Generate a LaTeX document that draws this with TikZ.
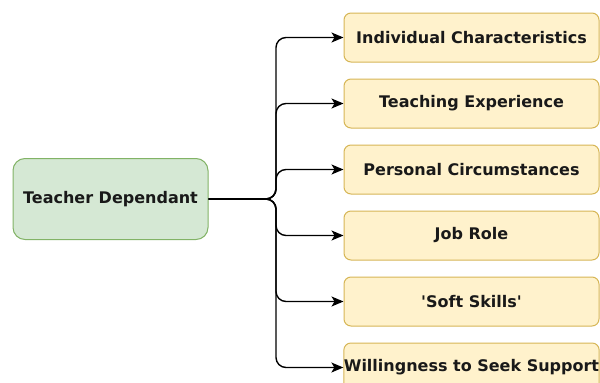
\documentclass[tikz,border=0pt]{standalone}
\usepackage{fontspec}
\setmainfont{DejaVu Sans}
\usepackage{xcolor}
\usetikzlibrary{positioning,arrows.meta}
\definecolor{tdfill}{HTML}{D5E8D4}
\definecolor{tdline}{HTML}{82B366}
\definecolor{ffill}{HTML}{FFF2CC}
\definecolor{fline}{HTML}{D6B656}
\tikzset{
  factor/.style={draw=fline, fill=ffill, line width=1pt, rounded corners=7pt,
    minimum width=255pt, minimum height=49pt, inner sep=0pt,
    font=\fontsize{16}{19}\selectfont\bfseries, text=black!90},
  branch/.style={line width=1.4pt, rounded corners=10pt,
    -{Stealth[length=12pt, width=10pt, inset=3pt]}},
}

\begin{document}
\begin{tikzpicture}[x=1pt, y=-1pt]
        \useasboundingbox (0,0) rectangle (600,383);
        \node[draw=tdline, fill=tdfill, line width=1pt, rounded corners=12pt,
            minimum width=195pt, minimum height=81pt, inner sep=0pt,
            font=\fontsize{16}{19}\selectfont\bfseries, text=black!90]
            (t) at (110.5,199) {Teacher Dependant};
        \node[factor] (f1) at (471.5,37.5) {Individual Characteristics};
        \node[factor, below=16pt of f1] (f2) {Teaching Experience};
        \node[factor, below=16pt of f2] (f3) {Personal Circumstances};
        \node[factor, below=16pt of f3] (f4) {Job Role};
        \node[factor, below=16pt of f4] (f5) {\textquotesingle Soft Skills\textquotesingle};
        \node[factor, below=16pt of f5] (f6) {Willingness to Seek Support};
        % the split point where all branches leave the trunk
        \coordinate (s) at (276,199);
        \draw[branch] (t.east) -- (s) |- (f1.west);
        \draw[branch] (t.east) -- (s) |- (f2.west);
        \draw[branch] (t.east) -- (s) |- (f3.west);
        \draw[branch] (t.east) -- (s) |- (f4.west);
        \draw[branch] (t.east) -- (s) |- (f5.west);
        \draw[branch] (t.east) -- (s) |- (f6.west);
\end{tikzpicture}
\end{document}
